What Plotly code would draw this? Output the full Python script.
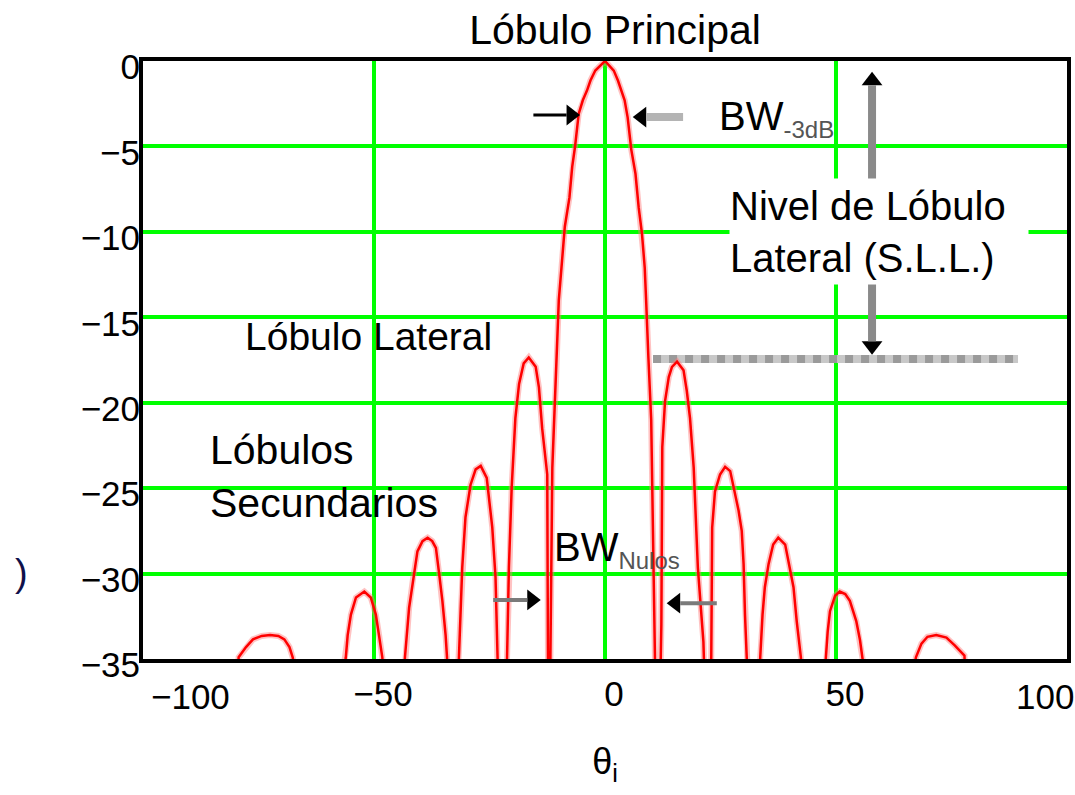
import plotly.graph_objects as go

# ---------------- data ----------------
# theta_i (degrees) and array factor (dB); nulls fall below the -35 dB floor
left_theta = [-100, -81.0,
              -79.3, -77.7, -76.2, -74.3, -72.5, -70.7, -69.4, -68.3, -67.6,
              -61.5,
              -56.1, -55.7, -55.0, -53.9, -52.1, -50.7, -49.6, -48.9, -48.2,
              -45.8,
              -43.3, -42.4, -41.5, -40.6, -39.5, -38.4, -37.4, -36.6, -35.9, -35.2, -34.5, -34.2,
              -33.0,
              -31.7, -30.9, -30.2, -29.1, -28.0, -26.9, -25.6, -24.4, -23.7, -23.3,
              -22.3,
              -21.2, -20.8, -20.2, -19.4, -18.6, -17.6, -16.5, -15.0, -14.3, -13.6, -12.5,
              -12.2]
left_db = [-42, -45,
           -34.9, -34.3, -33.85, -33.65, -33.6, -33.65, -33.85, -34.3, -34.9,
           -45,
           -34.9, -33.6, -32.4, -31.4, -31.05, -31.4, -32.4, -33.6, -34.9,
           -45,
           -34.9, -32.0, -30.2, -28.7, -28.1, -27.9, -28.1, -28.5, -30.0, -31.6, -33.6, -34.9,
           -45,
           -34.9, -29.65, -26.7, -24.8, -23.9, -23.7, -24.4, -27.3, -30.2, -34.9,
           -45,
           -34.9, -29.65, -24.97, -20.9, -18.9, -17.7, -17.35, -17.9, -19.1, -21.5, -24.2,
           -45]

main_theta = [-11.4, -10.6, -10.2, -10.0, -9.3, -8.7, -7.7, -7.1, -6.5, -6.05, -5.7,
              -4.8, -3.9, -3.15, -2.1, 0.0, 1.9, 2.8, 3.5, 4.25, 4.9, 5.3, 5.7,
              6.6, 7.3, 8.0, 8.6, 8.9, 9.1, 9.4, 10.0, 10.4, 10.6]
main_db = [-23.8, -18.7, -15.6, -14.0, -11.7, -9.7, -8.0, -6.2, -5.05, -3.9, -3.1,
           -2.3, -1.73, -1.14, -0.56, 0.0, -0.56, -1.14, -1.73, -2.3, -3.3, -4.3, -5.2,
           -6.6, -8.6, -10.1, -12.1, -14.0, -15.6, -17.4, -21.0, -28.0, -34.0]

right_theta = [11.4,
               12.2, 12.3, 12.4, 13.0, 13.8, 14.5, 15.6, 17.0, 17.7, 18.4, 19.2, 20.1, 21.3,
               22.5,
               23.0, 23.2, 23.8, 24.9, 26.0, 27.1, 27.9, 28.9, 29.6, 30.0, 30.3, 30.8,
               32.2,
               33.6, 34.1, 34.6, 35.4, 36.4, 37.5, 39.0, 40.0, 40.8, 41.5, 42.4,
               45.2,
               47.9, 48.2, 48.7, 49.8, 50.8, 52.0, 53.0, 54.4, 55.2, 55.7,
               61.5,
               67.3, 68.5, 69.8, 71.7, 73.9, 75.7, 77.8,
               79.5, 100]
right_db = [-45,
            -33.0, -27.0, -22.6, -19.9, -18.5, -17.9, -17.6, -18.1, -19.3, -20.9, -23.8, -29.65, -34.0,
            -45,
            -34.9, -27.3, -25.2, -24.2, -23.75, -24.0, -25.0, -26.3, -27.5, -29.45, -32.4, -34.9,
            -45,
            -34.9, -32.4, -30.8, -29.45, -28.3, -27.9, -28.3, -29.65, -30.8, -32.8, -34.9,
            -45,
            -34.9, -33.4, -32.2, -31.3, -31.05, -31.2, -31.6, -32.8, -33.9, -34.9,
            -45,
            -34.9, -34.1, -33.7, -33.6, -33.75, -34.2, -34.8,
            -45, -42]

x_tick_vals = [-100, -50, 0, 50, 100]
x_tick_text = ["\u2212100", "\u221250", "0", "50", "100"]
y_tick_vals = [0, -5, -10, -15, -20, -25, -30, -35]
y_tick_text = ["0", "\u22125", "\u221210", "\u221215", "\u221220", "\u221225", "\u221230", "\u221235"]

# annotation anchors (data units)
sll_level = -17.44
sll_line_x = [10.4, 89.4]
sll_arrow_x = 57.8
sll_arrow_y = [-0.63, -17.2]
bw3_y = [-3.16, -3.28]
bw3_tip_x = [-5.4, 6.0]
bw3_tail_x = [-15.5, 16.9]
null_y = [-31.54, -31.73]
null_tip_x = [-13.9, 13.35]
null_tail_x = [-24.2, 24.2]

FONT = "Liberation Sans"
PX_X = 924 / 200.0   # pixels per degree
PX_Y = 597 / 35.0    # pixels per dB
HEAD = 18            # arrow head marker size
hx = (HEAD / 2) / PX_X          # tip-to-centre offset, x units
hy = (HEAD / 2) / PX_Y          # tip-to-centre offset, y units
base_x = (HEAD * 0.75) / PX_X   # head length, x units
base_y = (HEAD * 0.75) / PX_Y   # head length, y units

theta = left_theta + main_theta + right_theta
af_db = left_db + main_db + right_db

fig = go.Figure()
# soft halo + red core (the original's anti-aliased trace)
fig.add_trace(go.Scatter(x=theta, y=af_db, mode="lines",
                         line=dict(color="rgba(255,120,120,0.45)", width=6),
                         hoverinfo="skip", showlegend=False))
fig.add_trace(go.Scatter(x=theta, y=af_db, mode="lines",
                         line=dict(color="#ff0000", width=2.5),
                         hoverinfo="skip", showlegend=False))

# arrow heads
head_x = [bw3_tip_x[0] - hx, bw3_tip_x[1] + hx, null_tip_x[0] - hx, null_tip_x[1] + hx,
          sll_arrow_x, sll_arrow_x]
head_y = [bw3_y[0], bw3_y[1], null_y[0], null_y[1],
          sll_arrow_y[0] - hy, sll_arrow_y[1] + hy]
head_sym = ["triangle-right", "triangle-left", "triangle-right", "triangle-left",
            "triangle-up", "triangle-down"]
fig.add_trace(go.Scatter(x=head_x, y=head_y, mode="markers",
                         marker=dict(symbol=head_sym, size=HEAD, color="black",
                                     line=dict(width=0)),
                         hoverinfo="skip", showlegend=False))

shapes = []
# dashed S.L.L. reference line
shapes.append(dict(type="line", xref="x", yref="y", layer="between",
                   x0=sll_line_x[0], x1=sll_line_x[1], y0=sll_level, y1=sll_level,
                   line=dict(color="#c8c8c8", width=8)))
shapes.append(dict(type="line", xref="x", yref="y", layer="between",
                   x0=sll_line_x[0], x1=sll_line_x[1], y0=sll_level, y1=sll_level,
                   line=dict(color="#9a9a9a", width=8, dash="dot")))
# SLL double arrow shaft
shapes.append(dict(type="line", xref="x", yref="y", layer="above",
                   x0=sll_arrow_x, x1=sll_arrow_x,
                   y0=sll_arrow_y[0] - base_y, y1=sll_arrow_y[1] + base_y,
                   line=dict(color="#8a8a8a", width=8)))
# BW-3dB shafts
shapes.append(dict(type="line", xref="x", yref="y", layer="above",
                   x0=bw3_tail_x[0], x1=bw3_tip_x[0] - base_x, y0=bw3_y[0], y1=bw3_y[0],
                   line=dict(color="black", width=3)))
shapes.append(dict(type="line", xref="x", yref="y", layer="above",
                   x0=bw3_tip_x[1] + base_x, x1=bw3_tail_x[1], y0=bw3_y[1], y1=bw3_y[1],
                   line=dict(color="#b4b4b4", width=8)))
# BW nulls shafts
shapes.append(dict(type="line", xref="x", yref="y", layer="above",
                   x0=null_tail_x[0], x1=null_tip_x[0] - base_x, y0=null_y[0], y1=null_y[0],
                   line=dict(color="#7a7a7a", width=4)))
shapes.append(dict(type="line", xref="x", yref="y", layer="above",
                   x0=null_tip_x[1] + base_x, x1=null_tail_x[1], y0=null_y[1], y1=null_y[1],
                   line=dict(color="#7a7a7a", width=4)))

ann = []
def label(text, x, y, size=40, xanchor="left", yanchor="middle", **kw):
    d = dict(text=text, x=x, y=y, xref="x", yref="y", showarrow=False,
             xanchor=xanchor, yanchor=yanchor, align="left",
             font=dict(family=FONT, size=size, color="black"))
    d.update(kw)
    ann.append(d)

label("BW<sub><span style='font-size:24px;color:#555'>-3dB</span></sub>", 24.2, -3.39)
label("Nivel de Lóbulo<br>Lateral (S.L.L.)", 26.8, -6.85, yanchor="top",
      bgcolor="white", width=298, height=105, borderpad=0, valign="middle")
label("Lóbulo Lateral", -78.3, -16.12, size=39)
label("Lóbulos<br>Secundarios", -85.9, -24.34, size=41)
label("BW<sub><span style='font-size:24px;color:#555'>Nulos</span></sub>", -11.5, -28.6)

# end tick labels of the x axis (placed inside, like the original)
for v, t, sh in [(x_tick_vals[0], x_tick_text[0], 47), (x_tick_vals[-1], x_tick_text[-1], -22)]:
    ann.append(dict(text=t, x=v, y=0, xref="x", yref="paper", yanchor="top",
                    xanchor="center", xshift=sh, yshift=-16, showarrow=False,
                    font=dict(family=FONT, size=35, color="black")))

# clipped y-axis label remnant
ann.append(dict(text=")", x=-0.132, y=0.144, xref="paper", yref="paper",
                xanchor="center", yanchor="middle", showarrow=False,
                font=dict(family=FONT, size=38, color="#10104a")))

fig.update_layout(
    width=1075, height=795,
    margin=dict(l=143, r=8, t=61, b=136, autoexpand=False),
    paper_bgcolor="white", plot_bgcolor="white",
    font=dict(family=FONT, color="black"),
    showlegend=False,
    title=dict(text="Lóbulo Principal", x=615 / 1075, xanchor="center",
               y=1 - 29.5 / 795, yanchor="middle",
               font=dict(family=FONT, size=41, color="black")),
    shapes=shapes, annotations=ann,
    xaxis=dict(range=[-100, 100], tickmode="array",
               tickvals=x_tick_vals[1:-1], ticktext=x_tick_text[1:-1],
               showgrid=True, gridcolor="#00ff00", gridwidth=4,
               zeroline=True, zerolinecolor="#00ff00", zerolinewidth=4,
               showline=True, mirror=True, linecolor="black", linewidth=4,
               ticks="", tickfont=dict(family=FONT, size=35, color="black"),
               ticklabelshift=9, ticklabelstandoff=1,
               title=dict(text="θ<sub>i</sub>", font=dict(family=FONT, size=36, color="black"),
                          standoff=38)),
    yaxis=dict(range=[-35, 0], tickmode="array",
               tickvals=y_tick_vals, ticktext=y_tick_text,
               showgrid=True, gridcolor="#00ff00", gridwidth=4,
               zeroline=False,
               showline=True, mirror=True, linecolor="black", linewidth=4,
               ticks="", tickfont=dict(family=FONT, size=35, color="black"),
               ticklabelshift=6, ticklabelstandoff=-8),
)

fig.write_html("out.html")
